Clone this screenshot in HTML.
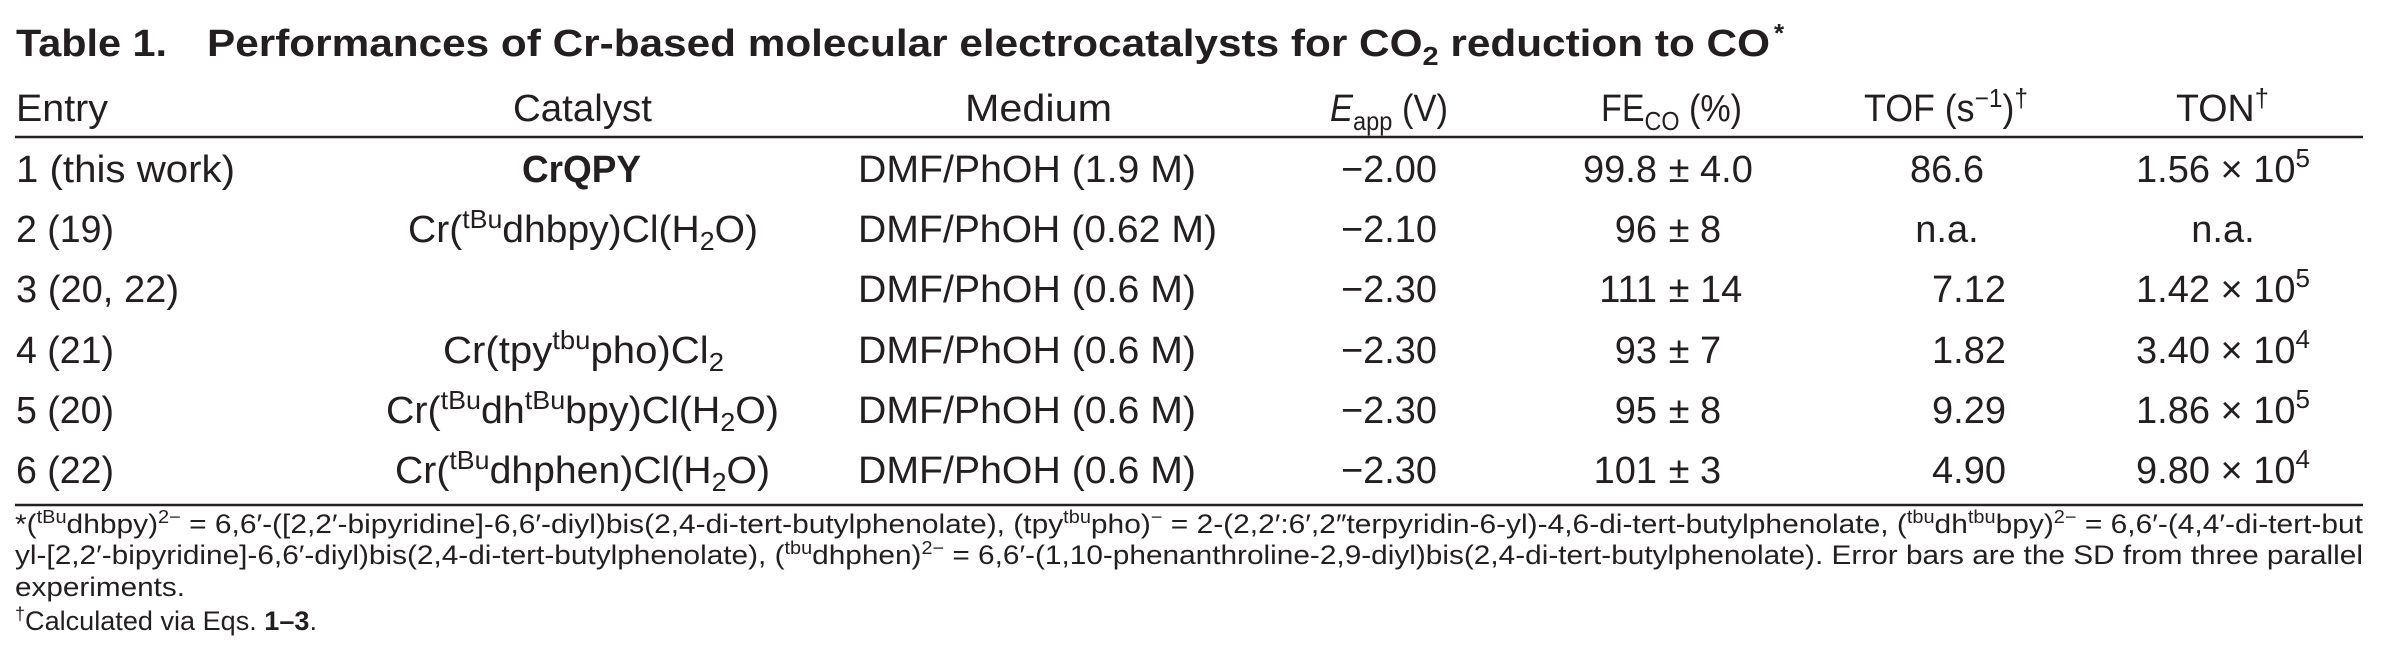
<!DOCTYPE html>
<html>
<head>
<meta charset="utf-8">
<style>
  html,body{margin:0;padding:0;background:#fff;}
  svg{display:block;}
  text{font-family:"Liberation Sans", "DejaVu Sans", sans-serif; fill:#231f20;}
</style>
</head>
<body>
<svg xmlns="http://www.w3.org/2000/svg" width="2392" height="651" viewBox="0 0 2392 651">
  <rect x="0" y="0" width="2392" height="651" fill="#fff"/>

  <!-- Title -->
  <text x="16" y="56" font-size="38" font-weight="bold" textLength="151" lengthAdjust="spacingAndGlyphs">Table 1.</text>
  <text x="207" y="56" font-size="38" font-weight="bold" textLength="1563" lengthAdjust="spacingAndGlyphs">Performances of Cr-based molecular electrocatalysts for CO<tspan font-size="26" dy="9">2</tspan><tspan dy="-9"> reduction to CO</tspan></text>
  <text x="1774" y="42" font-size="26" font-weight="bold">*</text>

  <!-- Header -->
  <text x="16" y="121" font-size="38" textLength="92" lengthAdjust="spacingAndGlyphs">Entry</text>
  <text x="513" y="121" font-size="38" textLength="139" lengthAdjust="spacingAndGlyphs">Catalyst</text>
  <text x="965" y="121" font-size="38" textLength="147" lengthAdjust="spacingAndGlyphs">Medium</text>
  <text x="1330" y="121" font-size="38" textLength="118" lengthAdjust="spacingAndGlyphs"><tspan font-style="italic">E</tspan><tspan font-size="26" dy="9">app</tspan><tspan dy="-9"> (V)</tspan></text>
  <text x="1601" y="121" font-size="38" textLength="141" lengthAdjust="spacingAndGlyphs">FE<tspan font-size="26" dy="9">CO</tspan><tspan dy="-9"> (%)</tspan></text>
  <text x="1864" y="121" font-size="38" textLength="164" lengthAdjust="spacingAndGlyphs">TOF (s<tspan font-size="26" dy="-14">−1</tspan><tspan dy="14">)</tspan><tspan font-size="26" dy="-14">†</tspan></text>
  <text x="2176" y="121" font-size="38" textLength="93" lengthAdjust="spacingAndGlyphs">TON<tspan font-size="26" dy="-14">†</tspan></text>

  <line x1="15" y1="137" x2="2363" y2="137" stroke="#231f20" stroke-width="2.5"/>

  <!-- Entry column -->
  <text x="16" y="182" font-size="38" textLength="219" lengthAdjust="spacingAndGlyphs">1 (this work)</text>
  <text x="16" y="242" font-size="38" textLength="98" lengthAdjust="spacingAndGlyphs">2 (19)</text>
  <text x="16" y="302" font-size="38" textLength="163" lengthAdjust="spacingAndGlyphs">3 (20, 22)</text>
  <text x="16" y="363" font-size="38" textLength="98" lengthAdjust="spacingAndGlyphs">4 (21)</text>
  <text x="16" y="423" font-size="38" textLength="98" lengthAdjust="spacingAndGlyphs">5 (20)</text>
  <text x="16" y="483" font-size="38" textLength="98" lengthAdjust="spacingAndGlyphs">6 (22)</text>

  <!-- Catalyst column -->
  <text x="522" y="182" font-size="38" font-weight="bold" textLength="119" lengthAdjust="spacingAndGlyphs">CrQPY</text>
  <text x="408" y="242" font-size="38" textLength="350" lengthAdjust="spacingAndGlyphs">Cr(<tspan font-size="26" dy="-14">tBu</tspan><tspan dy="14">dhbpy)Cl(H</tspan><tspan font-size="26" dy="8">2</tspan><tspan dy="-8">O)</tspan></text>
  <text x="443" y="363" font-size="38" textLength="281" lengthAdjust="spacingAndGlyphs">Cr(tpy<tspan font-size="26" dy="-14">tbu</tspan><tspan dy="14">pho)Cl</tspan><tspan font-size="26" dy="8">2</tspan></text>
  <text x="386" y="423" font-size="38" textLength="393" lengthAdjust="spacingAndGlyphs">Cr(<tspan font-size="26" dy="-14">tBu</tspan><tspan dy="14">dh</tspan><tspan font-size="26" dy="-14">tBu</tspan><tspan dy="14">bpy)Cl(H</tspan><tspan font-size="26" dy="8">2</tspan><tspan dy="-8">O)</tspan></text>
  <text x="395" y="483" font-size="38" textLength="375" lengthAdjust="spacingAndGlyphs">Cr(<tspan font-size="26" dy="-14">tBu</tspan><tspan dy="14">dhphen)Cl(H</tspan><tspan font-size="26" dy="8">2</tspan><tspan dy="-8">O)</tspan></text>

  <!-- Medium column -->
  <text x="858" y="182" font-size="38" textLength="338" lengthAdjust="spacingAndGlyphs">DMF/PhOH (1.9 M)</text>
  <text x="858" y="242" font-size="38" textLength="359" lengthAdjust="spacingAndGlyphs">DMF/PhOH (0.62 M)</text>
  <text x="858" y="302" font-size="38" textLength="338" lengthAdjust="spacingAndGlyphs">DMF/PhOH (0.6 M)</text>
  <text x="858" y="363" font-size="38" textLength="338" lengthAdjust="spacingAndGlyphs">DMF/PhOH (0.6 M)</text>
  <text x="858" y="423" font-size="38" textLength="338" lengthAdjust="spacingAndGlyphs">DMF/PhOH (0.6 M)</text>
  <text x="858" y="483" font-size="38" textLength="338" lengthAdjust="spacingAndGlyphs">DMF/PhOH (0.6 M)</text>

  <!-- Eapp column -->
  <text x="1341" y="182" font-size="38" textLength="96" lengthAdjust="spacingAndGlyphs">−2.00</text>
  <text x="1341" y="242" font-size="38" textLength="96" lengthAdjust="spacingAndGlyphs">−2.10</text>
  <text x="1341" y="302" font-size="38" textLength="96" lengthAdjust="spacingAndGlyphs">−2.30</text>
  <text x="1341" y="363" font-size="38" textLength="96" lengthAdjust="spacingAndGlyphs">−2.30</text>
  <text x="1341" y="423" font-size="38" textLength="96" lengthAdjust="spacingAndGlyphs">−2.30</text>
  <text x="1341" y="483" font-size="38" textLength="96" lengthAdjust="spacingAndGlyphs">−2.30</text>

  <!-- FE column -->
  <g font-size="38">
    <text x="1657" y="182" text-anchor="end">99.8</text><text x="1679" y="182" text-anchor="middle">±</text><text x="1700" y="182">4.0</text>
    <text x="1657" y="242" text-anchor="end">96</text><text x="1679" y="242" text-anchor="middle">±</text><text x="1700" y="242">8</text>
    <text x="1657" y="302" text-anchor="end">111</text><text x="1679" y="302" text-anchor="middle">±</text><text x="1700" y="302">14</text>
    <text x="1657" y="363" text-anchor="end">93</text><text x="1679" y="363" text-anchor="middle">±</text><text x="1700" y="363">7</text>
    <text x="1657" y="423" text-anchor="end">95</text><text x="1679" y="423" text-anchor="middle">±</text><text x="1700" y="423">8</text>
    <text x="1657" y="483" text-anchor="end">101</text><text x="1679" y="483" text-anchor="middle">±</text><text x="1700" y="483">3</text>
  </g>

  <!-- TOF column -->
  <g font-size="38">
    <text x="1984" y="182" text-anchor="end">86.6</text>
    <text x="1947" y="242" text-anchor="middle">n.a.</text>
    <text x="2006" y="302" text-anchor="end">7.12</text>
    <text x="2006" y="363" text-anchor="end">1.82</text>
    <text x="2006" y="423" text-anchor="end">9.29</text>
    <text x="2006" y="483" text-anchor="end">4.90</text>
  </g>

  <!-- TON column -->
  <g font-size="38">
    <text x="2136" y="182">1.56 × 10<tspan font-size="26" dy="-15">5</tspan></text>
    <text x="2223" y="242" text-anchor="middle">n.a.</text>
    <text x="2136" y="302">1.42 × 10<tspan font-size="26" dy="-15">5</tspan></text>
    <text x="2136" y="363">3.40 × 10<tspan font-size="26" dy="-15">4</tspan></text>
    <text x="2136" y="423">1.86 × 10<tspan font-size="26" dy="-15">5</tspan></text>
    <text x="2136" y="483">9.80 × 10<tspan font-size="26" dy="-15">4</tspan></text>
  </g>

  <line x1="15" y1="505" x2="2363" y2="505" stroke="#231f20" stroke-width="2.5"/>

  <!-- Footnotes -->
  <text x="15" y="533" font-size="27" textLength="2348" lengthAdjust="spacingAndGlyphs">*(<tspan font-size="18" dy="-10">tBu</tspan><tspan dy="10">dhbpy)</tspan><tspan font-size="18" dy="-10">2−</tspan><tspan dy="10"> = 6,6′-([2,2′-bipyridine]-6,6′-diyl)bis(2,4-di-tert-butylphenolate), (tpy</tspan><tspan font-size="18" dy="-10">tbu</tspan><tspan dy="10">pho)</tspan><tspan font-size="18" dy="-10">−</tspan><tspan dy="10"> = 2-(2,2′:6′,2″terpyridin-6-yl)-4,6-di-tert-butylphenolate, (</tspan><tspan font-size="18" dy="-10">tbu</tspan><tspan dy="10">dh</tspan><tspan font-size="18" dy="-10">tbu</tspan><tspan dy="10">bpy)</tspan><tspan font-size="18" dy="-10">2−</tspan><tspan dy="10"> = 6,6′-(4,4′-di-tert-but</tspan></text>
  <text x="15" y="564" font-size="27" textLength="2348" lengthAdjust="spacingAndGlyphs">yl-[2,2′-bipyridine]-6,6′-diyl)bis(2,4-di-tert-butylphenolate), (<tspan font-size="18" dy="-10">tbu</tspan><tspan dy="10">dhphen)</tspan><tspan font-size="18" dy="-10">2−</tspan><tspan dy="10"> = 6,6′-(1,10-phenanthroline-2,9-diyl)bis(2,4-di-tert-butylphenolate). Error bars are the SD from three parallel</tspan></text>
  <text x="15" y="596" font-size="27" textLength="170" lengthAdjust="spacingAndGlyphs">experiments.</text>
  <text x="15" y="630" font-size="27" textLength="302" lengthAdjust="spacingAndGlyphs"><tspan font-size="18" dy="-10">†</tspan><tspan dy="10">Calculated via Eqs. </tspan><tspan font-weight="bold">1–3</tspan>.</text>
</svg>
</body>
</html>
